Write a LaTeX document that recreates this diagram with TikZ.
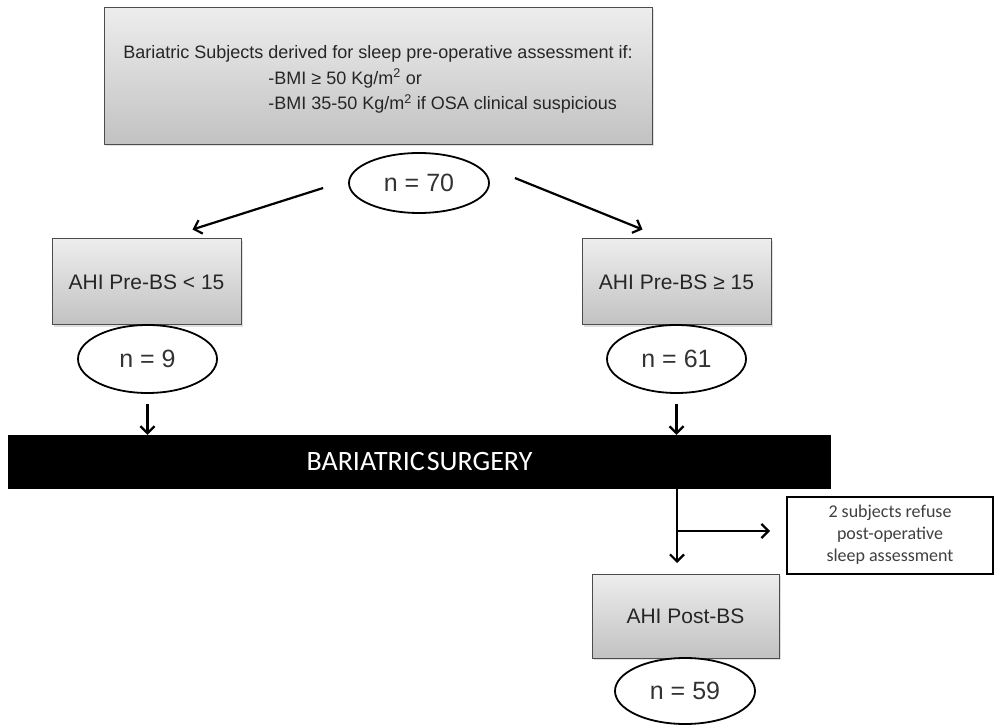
\documentclass[tikz,border=0pt]{standalone}
\usepackage{fontspec}
\setmainfont{Liberation Sans}
\newfontfamily\calibri{Carlito}
\usetikzlibrary{arrows.meta,shadows,shapes.geometric}
\tikzset{
  graybox/.style={draw=black!70, line width=1pt, top color=black!7, bottom color=black!24,
    drop shadow={opacity=0.25, shadow xshift=2pt, shadow yshift=-2pt},
    inner sep=0pt, text=black!85},
  countell/.style={ellipse, draw=black, line width=1.8pt, fill=white, inner sep=0pt,
    font=\fontsize{25}{28}\selectfont, text=black!80},
  arr/.style={line width=2.2pt, -{Straight Barb[length=7pt,width=14pt,line width=2.2pt]}},
  plain/.style={line width=2.2pt},
}
\begin{document}
\begin{tikzpicture}[x=1pt,y=-1pt]
\useasboundingbox (0,0) rectangle (996,727);
% top box
\node[graybox, minimum width=548pt, minimum height=137pt, align=left,
  font=\fontsize{18}{25.5}\selectfont] (top) at (378,76)
  {\rule{0pt}{20pt}Bariatric Subjects derived for sleep pre-operative assessment if:\\
   \hspace*{145pt}-BMI ≥ 50 Kg/m\textsuperscript{2} or\\
   \hspace*{145pt}-BMI 35-50 Kg/m\textsuperscript{2} if OSA clinical suspicious};
\node[countell, minimum width=140pt, minimum height=60pt] (n70) at (419,183) {n = 70};
% second level
\node[graybox, minimum width=189pt, minimum height=86pt, font=\fontsize{21}{25}\selectfont] (lo) at (146.5,282) {AHI Pre-BS < 15};
\node[graybox, minimum width=189pt, minimum height=86pt, font=\fontsize{21}{25}\selectfont] (hi) at (676.5,282) {AHI Pre-BS ≥ 15};
\node[countell, minimum width=139pt, minimum height=68pt] (n9) at (147.5,359) {n = 9};
\node[countell, minimum width=139pt, minimum height=68pt] (n61) at (676.5,359) {n = 61};
% bar
\node[fill=black, minimum width=823pt, minimum height=54pt, inner sep=0pt, text=white,
  font=\calibri\fontsize{28}{30}\selectfont] (bar) at (419.5,462) {\spaceskip=2pt\relax BARIATRIC SURGERY};
% refuse box
\node[draw=black, line width=2pt, fill=white, minimum width=206pt, minimum height=77pt,
  align=center, text=black!75, font=\calibri\fontsize{18}{22}\selectfont] (ref) at (890,535)
  {2 subjects refuse\\post-operative\\sleep assessment};
% post
\node[graybox, minimum width=187pt, minimum height=84pt, font=\fontsize{21}{25}\selectfont] (post) at (685.5,616) {AHI Post-BS};
\node[countell, minimum width=140pt, minimum height=66pt] (n59) at (685,691) {n = 59};
% connectors
\draw[arr] ([shift={(-25,5)}]n70.west) -- ([shift={(46,-9)}]lo.north);
\draw[arr] ([shift={(25,-5)}]n70.east) -- ([shift={(-34,-9)}]hi.north);
\draw[arr] ([yshift=-10pt]n9.south) -- (n9.south |- bar.north);
\draw[arr] ([yshift=-10pt]n61.south) -- (n61.south |- bar.north);
\coordinate (br) at (677,531);
\coordinate (pend) at (677,563);
\draw[plain] (br |- bar.south) -- (br);
\draw[arr] (br) -- (pend);
\draw[arr] (br) -- ([xshift=-16pt]ref.west |- br);
\end{tikzpicture}
\end{document}
